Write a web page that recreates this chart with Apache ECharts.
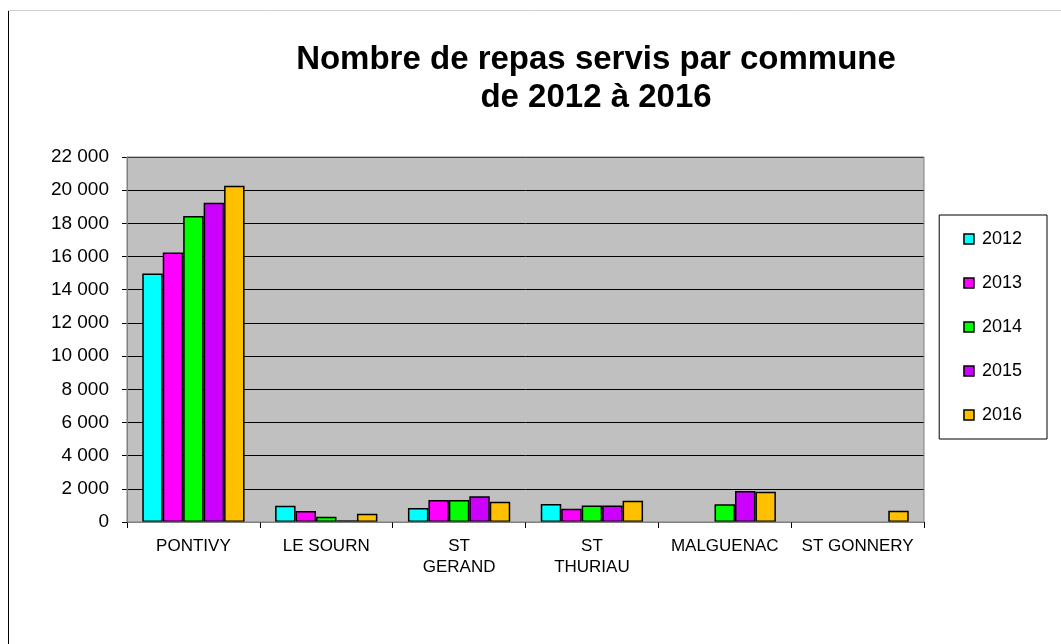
<!DOCTYPE html>
<html>
<head>
<meta charset="utf-8">
<script src="https://cdn.jsdelivr.net/npm/echarts@6/dist/echarts.min.js"></script>
<style>
  html, body { margin: 0; padding: 0; background: #fff; }
  #chart { width: 1061px; height: 644px; }
</style>
</head>
<body>
<div id="chart"></div>
<script>
// communes
var communes = ['PONTIVY', 'LE SOURN', 'ST\nGERAND', 'ST\nTHURIAU', 'MALGUENAC', 'ST GONNERY'];
var annees = ['2012', '2013', '2014', '2015', '2016'];
var couleurs = ['#00FFFF', '#FF00FF', '#00FF00', '#CC00FF', '#FFC000'];

// repas servis par année
var repas2012 = [14980, 980, 840, 1080, null, null];
var repas2013 = [16250, 660, 1330, 800, null, null];
var repas2014 = [18450, 320, 1320, 1000, 1070, null];
var repas2015 = [19240, 100, 1550, 1000, 1870, null];
var repas2016 = [20260, 500, 1220, 1280, 1830, 680];
var valeurs = [repas2012, repas2013, repas2014, repas2015, repas2016];

function fmt(v) {
  return String(v).replace(/\B(?=(\d{3})+(?!\d))/g, ' ');
}

var series = annees.map(function (a, i) {
  return {
    name: a,
    type: 'bar',
    data: valeurs[i],
    barGap: '0%',
    barCategoryGap: '23%',
    itemStyle: { color: couleurs[i], borderColor: '#000', borderWidth: 1.5 }
  };
});

var chart = echarts.init(document.getElementById('chart'));
chart.setOption({
  animation: false,
  textStyle: { fontFamily: 'Liberation Sans, Arial, sans-serif' },
  title: {
    text: 'Nombre de repas servis par commune\nde 2012 à 2016',
    left: 591,
    top: 36,
    textAlign: 'center',
    textStyle: { fontSize: 33, fontWeight: 'bold', color: '#000', lineHeight: 38 }
  },
  legend: {
    orient: 'vertical',
    right: 14,
    top: 215,
    data: annees,
    itemWidth: 10,
    itemHeight: 10,
    itemGap: 26,
    padding: [15, 25, 15, 24],
    borderColor: '#000',
    borderWidth: 1,
    icon: 'rect',
    itemStyle: { borderColor: '#000', borderWidth: 1.5 },
    textStyle: { fontSize: 18, color: '#000', lineHeight: 18, padding: [0, 0, 0, 3] }
  },
  grid: { left: 127, right: 137, top: 157, bottom: 122 },
  xAxis: {
    type: 'category',
    data: communes,
    axisLine: { lineStyle: { color: '#808080', width: 1 } },
    axisTick: { show: true, length: 6, lineStyle: { color: '#000' } },
    axisLabel: { fontSize: 17, color: '#000', margin: 14, lineHeight: 21, interval: 0 },
    splitArea: { show: false }
  },
  yAxis: {
    type: 'value',
    min: 0,
    max: 22000,
    interval: 2000,
    axisLine: { show: true, lineStyle: { color: '#808080', width: 1 } },
    axisTick: { show: true, length: 5, lineStyle: { color: '#000' } },
    axisLabel: { fontSize: 19, color: '#000', margin: 18, formatter: fmt },
    splitLine: { lineStyle: { color: '#000', width: 1 } },
    splitArea: { show: true, areaStyle: { color: ['#C0C0C0', '#C0C0C0'] } }
  },
  graphic: [
    { type: 'line', shape: { x1: 8.5, y1: 10, x2: 8.5, y2: 644 }, style: { stroke: '#000', lineWidth: 1 } },
    { type: 'line', shape: { x1: 8, y1: 10.5, x2: 1061, y2: 10.5 }, style: { stroke: '#d0d0d0', lineWidth: 1 } },
    { type: 'rect', shape: { x: 127, y: 157, width: 797, height: 365 }, style: { fill: 'none', stroke: '#808080', lineWidth: 1 }, z: 10 }
  ],
  series: series
});
</script>
</body>
</html>
